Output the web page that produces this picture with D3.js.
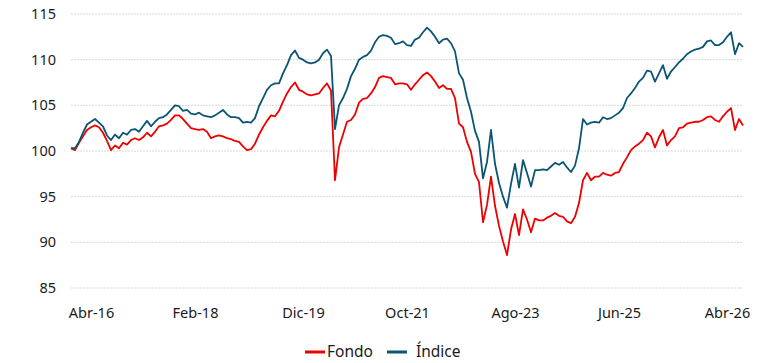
<!DOCTYPE html>
<html>
<head>
<meta charset="utf-8">
<script src="https://cdn.jsdelivr.net/npm/d3@7"></script>
<style>
  html, body { margin: 0; padding: 0; background: #fff; }
  svg { display: block; font-family: "Noto Sans", "Open Sans", sans-serif; }
</style>
</head>
<body>
<svg id="chart" width="771" height="363"></svg>
<script>
// Weekly-ish sampled index levels (base 100)
const fondo = [
  100.3, 100.1, 100.9, 101.6, 102.3, 102.6, 102.8, 102.6, 102.0, 101.1,
  100.1, 100.6, 100.3, 100.9, 100.7, 101.2, 101.4, 101.2, 101.5, 102.0,
  101.6, 102.1, 102.7, 102.8, 103.0, 103.4, 103.9, 103.9, 103.5, 103.0,
  102.5, 102.4, 102.3, 102.4, 102.1, 101.4, 101.6, 101.7, 101.6, 101.4,
  101.3, 101.1, 101.0, 100.5, 100.1, 100.2, 100.8, 101.8, 102.6, 103.3,
  103.9, 103.8, 104.4, 105.4, 106.3, 107.0, 107.5, 106.7, 106.5, 106.2,
  106.1, 106.2, 106.3, 106.9, 107.4, 106.6, 96.8, 100.4, 101.8, 103.2,
  103.4, 104.0, 105.3, 105.7, 105.8, 106.3, 107.0, 108.0, 108.2, 108.1,
  108.0, 107.3, 107.4, 107.4, 107.3, 106.7, 107.3, 107.8, 108.3, 108.6,
  108.2, 107.6, 106.9, 107.2, 106.8, 106.8, 105.8, 103.0, 102.6, 101.0,
  99.9, 97.5, 96.6, 92.2, 94.1, 97.2, 94.0, 91.8, 90.1, 88.6,
  91.4, 93.1, 90.8, 93.6, 92.5, 91.1, 92.6, 92.4, 92.4, 92.7,
  92.9, 93.2, 92.9, 92.8, 92.3, 92.1, 92.8, 94.3, 96.8, 97.6,
  96.8, 97.2, 97.2, 97.6, 97.4, 97.3, 97.6, 97.7, 98.6, 99.3,
  100.1, 100.5, 100.8, 101.2, 102.0, 101.6, 100.4, 101.5, 102.3, 100.6,
  101.2, 101.6, 102.5, 102.6, 103.0, 103.1, 103.2, 103.2, 103.4, 103.7,
  103.8, 103.4, 103.2, 103.8, 104.3, 104.7, 102.3, 103.5, 102.8
];

const indice = [
  100.3, 100.3, 101.0, 102.0, 102.9, 103.2, 103.5, 103.1, 102.7, 101.7,
  101.2, 101.8, 101.4, 102.0, 101.8, 102.3, 102.4, 102.1, 102.7, 103.3,
  102.7, 103.2, 103.6, 103.7, 104.0, 104.5, 105.0, 104.9, 104.4, 104.5,
  104.1, 104.0, 104.2, 103.9, 103.8, 103.7, 103.9, 104.2, 104.5, 104.0,
  103.7, 103.7, 103.6, 103.1, 103.2, 103.1, 103.6, 104.9, 105.8, 106.7,
  107.2, 107.4, 107.4, 108.5, 109.4, 110.5, 111.0, 110.2, 110.0, 109.7,
  109.6, 109.7, 110.0, 110.7, 111.1, 110.4, 102.4, 105.0, 105.8, 106.8,
  108.2, 109.0, 110.0, 110.3, 110.5, 111.0, 111.9, 112.5, 112.7, 112.6,
  112.4, 111.7, 111.8, 112.0, 111.6, 111.5, 112.2, 112.4, 113.0, 113.5,
  113.1, 112.5, 111.8, 112.2, 112.3, 111.8, 110.9, 108.5, 107.8, 105.8,
  104.3, 102.2, 101.0, 97.0, 98.8, 102.3, 98.6, 96.5, 95.0, 93.8,
  96.4, 98.6, 96.0, 99.0, 97.6, 96.1, 97.9, 97.9, 98.0, 97.9,
  98.3, 98.7, 98.5, 98.8, 98.2, 97.7, 98.4, 100.3, 103.5, 102.9,
  103.1, 103.2, 103.1, 103.7, 103.5, 103.6, 103.9, 104.2, 104.7, 105.8,
  106.3, 106.9, 107.6, 108.0, 108.8, 108.7, 107.6, 108.5, 109.4, 107.9,
  108.7, 109.2, 109.7, 110.1, 110.6, 110.9, 111.1, 111.2, 111.4, 112.0,
  112.1, 111.6, 111.6, 111.9, 112.5, 113.0, 110.6, 111.8, 111.4
];

// Category labels and the sample positions they sit on
const tickLabels = ["Abr-16", "Feb-18", "Dic-19", "Oct-21", "Ago-23", "Jun-25", "Abr-26"];
const tickIndex = [5, 31, 58, 84, 111, 137, 164];
const yTicks = [85, 90, 95, 100, 105, 110, 115];

const seriesNames = ["Fondo", "Índice"];
const seriesColors = ["#ee0000", "#0b5574"];

const svg = d3.select("#chart");
const plotLeft = 71, plotRight = 743, plotTop = 14, plotBottom = 288;

const x = d3.scaleLinear().domain([0, fondo.length - 1]).range([plotLeft, plotRight]);
const y = d3.scaleLinear().domain([85, 115]).range([plotBottom, plotTop]);

// Horizontal gridlines
svg.append("g")
  .selectAll("line")
  .data(yTicks)
  .join("line")
  .attr("x1", plotLeft).attr("x2", plotRight)
  .attr("y1", d => y(d)).attr("y2", d => y(d))
  .attr("stroke", "#d9d9d9")
  .attr("stroke-width", 1)
  .attr("stroke-dasharray", "2,1");

// Y axis labels
const yAxis = d3.axisLeft(y).tickValues(yTicks).tickSize(0).tickPadding(0);
svg.append("g")
  .attr("transform", "translate(56,0)")
  .call(yAxis)
  .call(g => g.select(".domain").remove())
  .call(g => g.selectAll("text")
    .attr("font-size", 14.5)
    .attr("font-family", "Noto Sans, sans-serif")
    .attr("fill", "#1a1a1a"));

// X axis labels
const xAxis = d3.axisBottom(x).tickValues(tickIndex)
  .tickFormat((d, i) => tickLabels[i]).tickSize(0).tickPadding(0);
svg.append("g")
  .attr("transform", "translate(0,308)")
  .call(xAxis)
  .call(g => g.select(".domain").remove())
  .call(g => g.selectAll("text")
    .attr("font-size", 14.5)
    .attr("font-family", "Noto Sans, sans-serif")
    .attr("fill", "#1a1a1a"));

// Series lines
const line = d3.line().x((d, i) => x(i)).y(d => y(d));
[fondo, indice].forEach((data, k) => {
  svg.append("path")
    .datum(data)
    .attr("fill", "none")
    .attr("stroke", seriesColors[k])
    .attr("stroke-width", 1.8)
    .attr("stroke-linejoin", "round")
    .attr("d", line);
});

// Legend
const legend = svg.append("g").attr("transform", "translate(305,352)");
const legendX = [0, 82];
seriesNames.forEach((name, k) => {
  const g = legend.append("g").attr("transform", `translate(${legendX[k]},0)`);
  g.append("line")
    .attr("x1", 0).attr("x2", 20)
    .attr("y1", 0).attr("y2", 0)
    .attr("stroke", seriesColors[k])
    .attr("stroke-width", 3);
  g.append("text")
    .attr("x", k === 0 ? 22 : 29)
    .attr("y", 0)
    .attr("dy", "0.35em")
    .attr("font-size", 15.5)
    .attr("font-family", "Noto Sans, sans-serif")
    .attr("fill", "#1a1a1a")
    .text(name);
});
</script>
</body>
</html>
